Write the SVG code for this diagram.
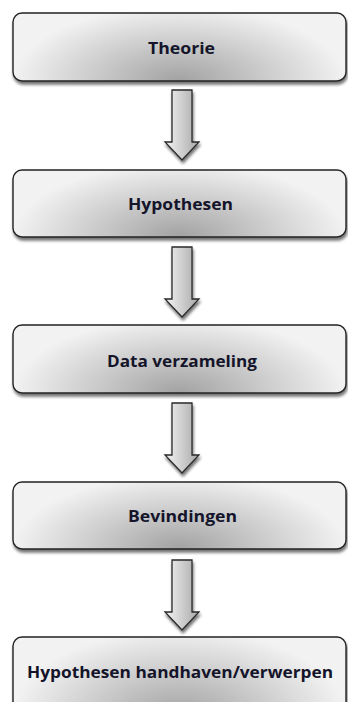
<svg xmlns="http://www.w3.org/2000/svg" width="348" height="702" viewBox="0 0 348 702">
<defs>
<radialGradient id="boxg" cx="0.5" cy="1" r="0.5" gradientTransform="translate(0.5 1) scale(1 2.2) translate(-0.5 -1)" fx="0.5" fy="1">
<stop offset="0" stop-color="#a2a2a2"/>
<stop offset="1" stop-color="#f2f2f2"/>
</radialGradient>
<linearGradient id="arrg" x1="0" y1="0" x2="1" y2="0">
<stop offset="0" stop-color="#f4f4f4"/>
<stop offset="1" stop-color="#a8a8a8"/>
</linearGradient>
<filter id="sh" x="-10%" y="-20%" width="120%" height="150%">
<feGaussianBlur in="SourceAlpha" stdDeviation="1.8"/>
<feOffset dx="1" dy="3" result="b"/>
<feComponentTransfer><feFuncA type="linear" slope="0.55"/></feComponentTransfer>
<feMerge><feMergeNode/><feMergeNode in="SourceGraphic"/></feMerge>
</filter>
<path id="arrow" d="M-10,0 H10 V52 H17 L0,70 L-17,52 H-10 Z"/>
</defs>
<style>
.box{fill:url(#boxg);stroke:#222;stroke-width:1.4;filter:url(#sh)}
.arr{fill:url(#arrg);stroke:#2a2a2a;stroke-width:1.3;filter:url(#sh)}
.lbl{font-family:"Open Sans","Liberation Sans",sans-serif;font-weight:bold;font-size:16px;fill:#14142a;text-anchor:middle}
</style>
<g id="connectors">
<use href="#arrow" class="arr" x="182" y="90"/>
<use href="#arrow" class="arr" x="182" y="247"/>
<use href="#arrow" class="arr" x="182" y="403"/>
<use href="#arrow" class="arr" x="182" y="560"/>
</g>
<g id="n1"><rect class="box" x="13" y="13" width="333" height="68" rx="9"/><text class="lbl" x="181.5" y="54" textLength="67" lengthAdjust="spacingAndGlyphs">Theorie</text></g>
<g id="n2"><rect class="box" x="13" y="170" width="333" height="67" rx="9"/><text class="lbl" x="180.5" y="210" textLength="105" lengthAdjust="spacingAndGlyphs">Hypothesen</text></g>
<g id="n3"><rect class="box" x="13" y="325" width="333" height="68" rx="9"/><text class="lbl" x="182" y="367" textLength="150" lengthAdjust="spacingAndGlyphs">Data verzameling</text></g>
<g id="n4"><rect class="box" x="13" y="482" width="333" height="67" rx="9"/><text class="lbl" x="182.5" y="522" textLength="109" lengthAdjust="spacingAndGlyphs">Bevindingen</text></g>
<g id="n5"><rect class="box" x="13" y="637" width="333" height="80" rx="9"/><text class="lbl" x="180" y="678" textLength="306" lengthAdjust="spacingAndGlyphs">Hypothesen handhaven/verwerpen</text></g>
</svg>
